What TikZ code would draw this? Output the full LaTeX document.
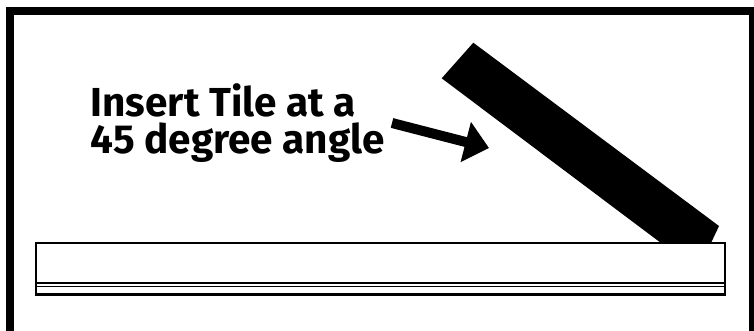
\documentclass[tikz,border=0pt]{standalone}
\usepackage{fontspec}
\setmainfont{Fira Sans}
\usetikzlibrary{arrows.meta}
\begin{document}
\begin{tikzpicture}[x=1pt,y=-1pt,
  frame/.style={line width=8.3pt},
  tile/.style={fill=black,draw=none},
  board/.style={draw=black,fill=white,line width=2pt},
  pointer/.style={line width=10pt,-{Triangle[length=24pt,width=40pt]}},
  caption/.style={font=\fontsize{40.5}{36.3}\selectfont\bfseries,align=left,inner sep=0pt,anchor=base west}
]
\useasboundingbox (0,0) rectangle (754,330);
\clip (0,0) rectangle (754,330);
\fill[white] (0,0) rectangle (754,330);
% outer frame (open at the bottom)
\draw[frame] (10,345) -- (10,10.8) -- (752.8,10.8) -- (752.8,345);
% tile
\fill[tile] (441.7,78.3) -- (473.3,42.7) -- (719,226) -- (711,243) -- (661,243) -- cycle;
% board
\draw[board] (36,243) rectangle (725,294.5);
\draw[line width=2pt] (36,283) -- (725,283);
\draw[line width=1pt] (36,286) -- (725,286);
\draw[line width=3pt] (35,294.5) -- (726,294.5);
% caption (anchor at the baseline of the last line)
\node[caption] (lbl) at (90.5,153) {Insert Tile at a\\45 degree angle};
% arrow
\coordinate (a0) at (392,123);
\coordinate (a1) at (489,148);
\draw[pointer] (a0) -- (a1);
\end{tikzpicture}
\end{document}
